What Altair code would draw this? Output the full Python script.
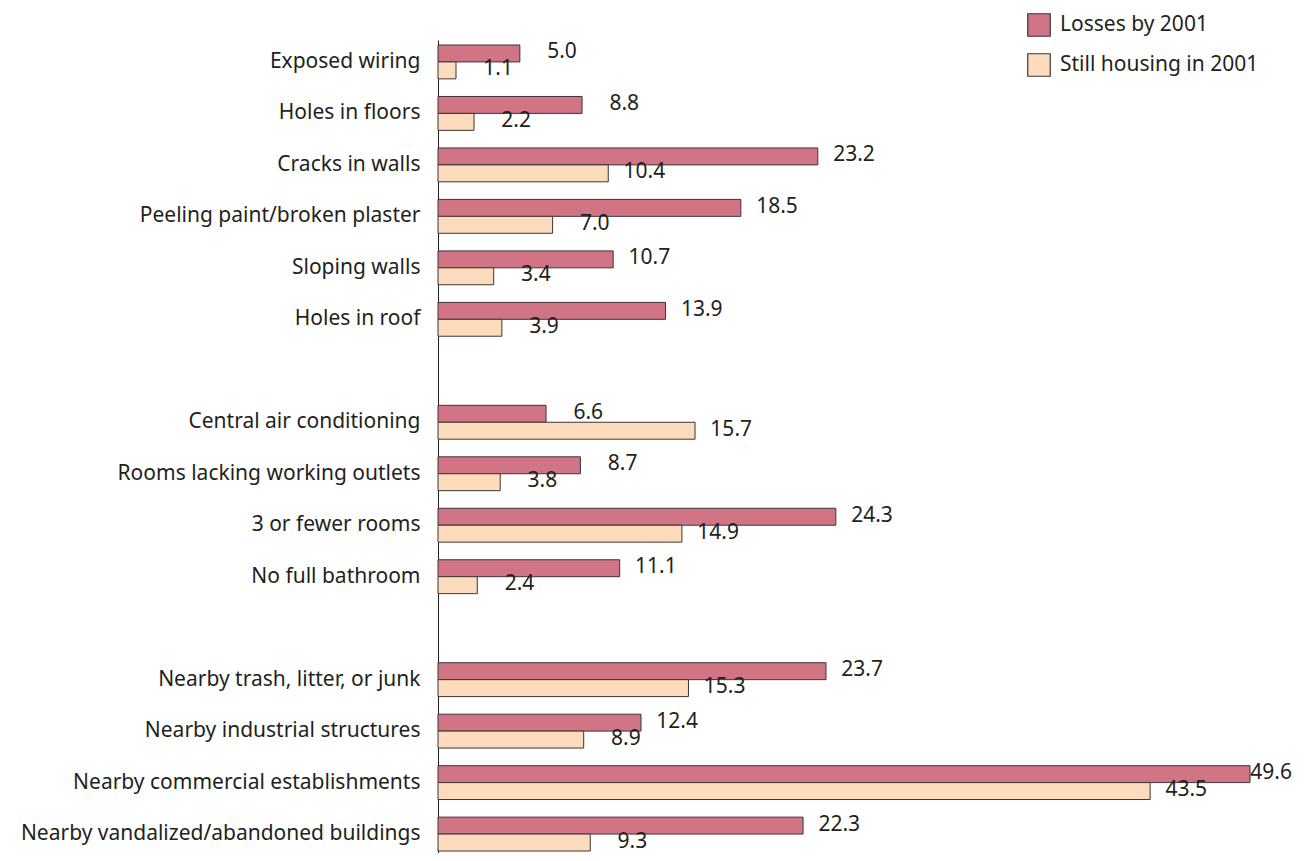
import altair as alt
import pandas as pd

categories = [
    "Exposed wiring", "Holes in floors", "Cracks in walls",
    "Peeling paint/broken plaster", "Sloping walls", "Holes in roof",
    "Central air conditioning", "Rooms lacking working outlets",
    "3 or fewer rooms", "No full bathroom",
    "Nearby trash, litter, or junk", "Nearby industrial structures",
    "Nearby commercial establishments", "Nearby vandalized/abandoned buildings",
]
losses = [5.0, 8.8, 23.2, 18.5, 10.7, 13.9, 6.6, 8.7, 24.3, 11.1, 23.7, 12.4, 49.6, 22.3]
still = [1.1, 2.2, 10.4, 7.0, 3.4, 3.9, 15.7, 3.8, 14.9, 2.4, 15.3, 8.9, 43.5, 9.3]
series = ["Losses by 2001", "Still housing in 2001"]
colors = ["#d17586", "#fddbbd"]

# row order with two blank spacer rows between groups
row_order = categories[:6] + ["gap1"] + categories[6:10] + ["gap2"] + categories[10:]

rows = []
for c, a, b in zip(categories, losses, still):
    rows.append({"cat": c, "series": series[0], "value": a})
    rows.append({"cat": c, "series": series[1], "value": b})
df = pd.DataFrame(rows)

FONT = "Noto Sans"
FS = 21
INK = "#231f20"

y_enc = alt.Y(
    "cat:N",
    sort=row_order,
    scale=alt.Scale(domain=row_order, range=[0, 816], paddingInner=0.342, paddingOuter=0.097),
    axis=alt.Axis(
        title=None, ticks=False, labelPadding=18, labelFontSize=FS,
        labelColor=INK, labelFont=FONT, domainColor=INK,
        domainWidth=1, labelLimit=428,
        labelExpr="indexof(datum.value, 'gap') == 0 ? '' : datum.value",
    ),
)
yoff = alt.YOffset(
    "series:N",
    scale=alt.Scale(domain=series, paddingInner=0, paddingOuter=0),
)
x_enc = alt.X("value:Q", scale=alt.Scale(domain=[0, 49.6], nice=False, zero=True), axis=None)

bars = alt.Chart(df).mark_bar(stroke="#3d3535", strokeWidth=1).encode(
    y=y_enc,
    yOffset=yoff,
    x=x_enc,
    color=alt.Color(
        "series:N",
        scale=alt.Scale(domain=series, range=colors),
        legend=alt.Legend(
            title=None, orient="none", legendX=589, legendY=-27,
            symbolType="square", symbolSize=506, symbolStrokeColor="#3d3535",
            symbolStrokeWidth=1.2, symbolOpacity=1, labelFontSize=FS,
            labelFont=FONT, labelColor=INK, labelOffset=9,
            labelLimit=300, rowPadding=12, padding=0,
        ),
    ),
)

labels = alt.Chart(df).mark_text(
    align="right", baseline="middle", dy=-1,
    dx=alt.ExprRef(expr="datum.value > 45 ? 42 : 57"),
    fontSize=FS, font=FONT, color=INK,
).encode(
    y=alt.Y("cat:N", sort=row_order),
    yOffset=alt.YOffset("series:N"),
    x=alt.X("value:Q"),
    text=alt.Text("value:Q", format=".1f"),
)

chart = (
    alt.layer(bars, labels)
    .properties(
        width=812, height=813,
        autosize=alt.AutoSizeParams(type="none"),
        padding={"left": 430, "top": 32, "right": 42, "bottom": 0},
    )
    .configure_view(stroke=None)
)

chart.save("out.html", embed_options={"renderer": "svg", "actions": False})
